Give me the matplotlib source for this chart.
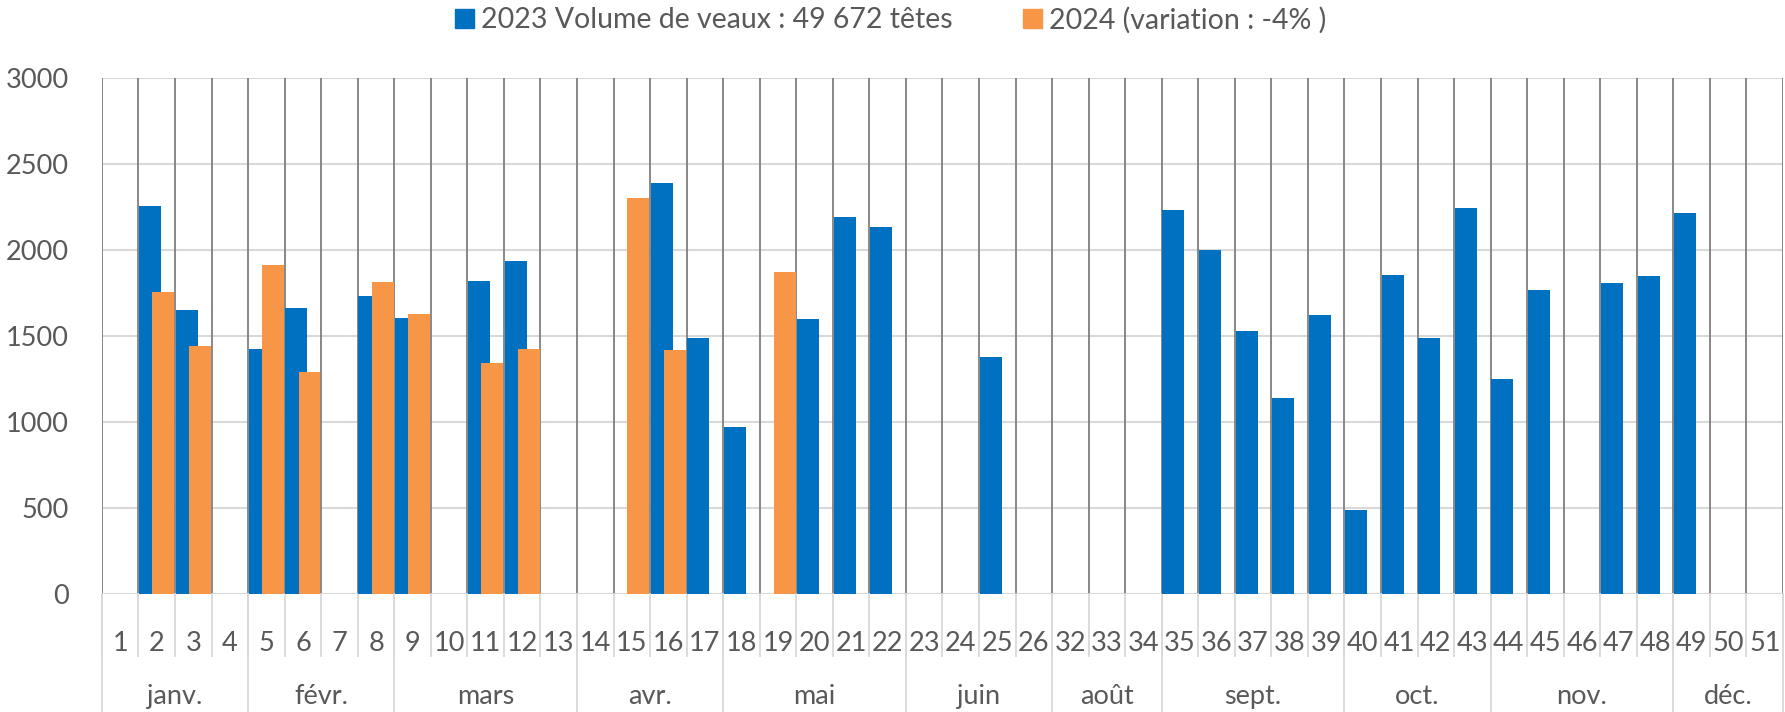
import matplotlib.pyplot as plt
import matplotlib.transforms as mtransforms
from matplotlib.patches import Patch
import numpy as np

weeks = [1, 2, 3, 4, 5, 6, 7, 8, 9, 10, 11, 12, 13, 14, 15, 16, 17, 18, 19, 20,
         21, 22, 23, 24, 25, 26, 32, 33, 34, 35, 36, 37, 38, 39, 40, 41, 42, 43,
         44, 45, 46, 47, 48, 49, 50, 51]

# 2023 volumes by week (None = no value)
vol_2023 = [None, 2258, 1651, None, 1427, 1664, None, 1732, 1606, None, 1819, 1935, None,
            None, None, 2389, 1491, 971, None, 1601, 2193, 2133, None, None, 1379, None,
            None, None, None, 2232, 1998, 1532, 1137, 1625, 487, 1857, 1491, 2247,
            1253, 1766, None, 1808, 1851, 2216, None, None]

vol_2024 = [None, 1755, 1440, None, 1912, 1291, None, 1813, 1628, None, 1343, 1423, None,
            None, 2300, 1418, None, None, 1872, None, None, None, None, None, None, None,
            None, None, None, None, None, None, None, None, None, None, None, None,
            None, None, None, None, None, None, None, None]

months = ["janv.", "févr.", "mars", "avr.", "mai", "juin", "août", "sept.", "oct.", "nov.", "déc."]
month_sizes = [4, 4, 5, 4, 5, 4, 3, 5, 4, 5, 3]

label_2023 = "2023 Volume de veaux : 49 672 têtes"
label_2024 = "2024 (variation : -4% )"

blue = "#0070C0"
orange = "#F79646"
txt = "#595959"
fs = 19.5

plt.rcParams['font.family'] = ['Lato', 'DejaVu Sans']

fig = plt.figure(figsize=(17.85, 7.12), dpi=100)
ax = fig.add_axes([0.0571, 0.1657, 0.9418, 0.7247])

n = len(weeks)
x = np.arange(n)
bw = 0.6

xb = [i for i, v in zip(x, vol_2023) if v is not None]
yb = [v for v in vol_2023 if v is not None]
xo = [i for i, v in zip(x, vol_2024) if v is not None]
yo = [v for v in vol_2024 if v is not None]

ax.bar(np.array(xb) - 0.48, yb, width=bw, align='edge', color=blue, zorder=3)
ax.bar(np.array(xo) + 0.48 - bw, yo, width=bw, align='edge', color=orange, zorder=4)

ax.set_xlim(-0.5, n - 0.5)
ax.set_ylim(0, 3000)
ax.set_yticks(np.arange(0, 3001, 500))
ax.tick_params(axis='y', length=0, pad=24, labelsize=fs, labelcolor=txt)
ax.set_xticks([])
for s in ax.spines.values():
    s.set_visible(False)

# horizontal gridlines
for yv in np.arange(0, 3001, 500):
    ax.axhline(yv, color="#d9d9d9", lw=1.5, zorder=1)
# vertical category gridlines
for b in np.arange(-0.5, n, 1.0):
    ax.axvline(b, color="#7f7f7f", lw=1.3, zorder=2)

# category axis: week labels and month groups
trans = mtransforms.blended_transform_factory(ax.transData, ax.transAxes)
for i, w in enumerate(weeks):
    ax.text(i, -0.095, str(w), transform=trans, ha='center', va='center',
            fontsize=fs, color=txt)
for b in np.arange(-0.5, n, 1.0):
    ax.plot([b, b], [0, -0.12], transform=trans, color="#d9d9d9", lw=1.3, clip_on=False)

start = 0
for m, size in zip(months, month_sizes):
    ax.text(start + size / 2 - 0.5, -0.198, m, transform=trans, ha='center', va='center',
            fontsize=fs, color=txt)
    ax.plot([start - 0.5, start - 0.5], [0, -0.23], transform=trans, color="#d9d9d9",
            lw=1.3, clip_on=False)
    start += size
ax.plot([n - 0.5, n - 0.5], [0, -0.23], transform=trans, color="#d9d9d9", lw=1.3, clip_on=False)

handles = [Patch(color=blue, label=label_2023), Patch(color=orange, label=label_2024)]
fig.legend(handles=handles, loc='center', bbox_to_anchor=(0.499, 0.972), ncol=2,
           frameon=False, fontsize=20.5, labelcolor=txt, handlelength=0.65,
           handleheight=0.65, handletextpad=0.25, columnspacing=2.5)

fig.savefig("out.png", dpi=100)
